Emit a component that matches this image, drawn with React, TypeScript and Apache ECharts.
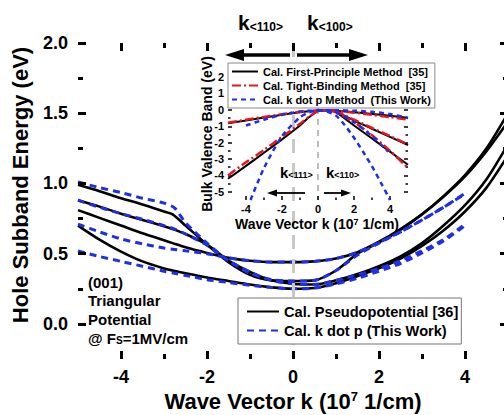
import React, { useEffect, useRef } from "react";
import * as echarts from "echarts";

const FONT = '"Liberation Sans", Arial, Helvetica, sans-serif';

// ---------- Main plot data ----------
const kMain = [-5, -4.5, -4, -3.5, -3, -2.8, -2.5, -2, -1.5, -1, -0.5, 0, 0.5, 1, 1.5, 2, 2.5, 3, 3.5, 4, 4.5, 5];
const pseudo1 = [0.99, 0.945, 0.895, 0.85, 0.8, 0.78, 0.7, 0.565, 0.44, 0.35, 0.31, 0.305, 0.31, 0.38, 0.5, 0.58, 0.67, 0.78, 0.91, 1.06, 1.25, 1.5];
const pseudo2 = [0.88, 0.835, 0.785, 0.74, 0.695, 0.675, 0.64, 0.565, 0.45, 0.37, 0.31, 0.285, 0.28, 0.31, 0.355, 0.41, 0.48, 0.575, 0.7, 0.845, 1.03, 1.28];
const pseudo3 = [0.81, 0.755, 0.7, 0.645, 0.595, 0.575, 0.545, 0.505, 0.47, 0.45, 0.44, 0.44, 0.445, 0.465, 0.51, 0.585, 0.675, 0.78, 0.905, 1.05, 1.23, 1.44];
const pseudo4 = [0.7, 0.6, 0.515, 0.445, 0.395, 0.38, 0.36, 0.33, 0.305, 0.28, 0.26, 0.25, 0.255, 0.29, 0.34, 0.395, 0.465, 0.555, 0.665, 0.8, 0.97, 1.2];

const kBlue = [-5, -4.5, -4, -3.5, -3, -2.75, -2.5, -2, -1.5, -1, -0.5, 0, 0.5, 1, 1.5, 2, 2.5, 3, 3.5, 4];
const kdotp1 = [1.01, 0.97, 0.935, 0.895, 0.86, 0.825, 0.72, 0.575, 0.45, 0.36, 0.315, 0.305, 0.31, 0.38, 0.49, 0.575, 0.655, 0.74, 0.83, 0.93];
const kdotp2 = [0.88, 0.83, 0.785, 0.745, 0.7, 0.675, 0.64, 0.56, 0.45, 0.37, 0.31, 0.285, 0.28, 0.31, 0.35, 0.395, 0.45, 0.52, 0.6, 0.71];
const kdotp3 = [0.71, 0.655, 0.605, 0.57, 0.54, 0.53, 0.52, 0.5, 0.47, 0.45, 0.44, 0.44, 0.445, 0.465, 0.51, 0.58, 0.655, 0.74, 0.83, 0.925];
const kdotp4 = [0.52, 0.48, 0.445, 0.41, 0.375, 0.36, 0.345, 0.315, 0.295, 0.275, 0.26, 0.25, 0.255, 0.285, 0.325, 0.375, 0.43, 0.505, 0.59, 0.7];

const mainXMajor = [-4, -2, 0, 2, 4];
const mainXMinor = [-3, -1, 1, 3];
const mainYMajor = [0, 0.5, 1, 1.5, 2];
const mainYMinor = [0.25, 0.75, 1.25, 1.75];

// ---------- Inset data ----------
const fpK1 = [-5, -4, -3, -2, -1, 0, 0.5, 1, 2, 3, 4, 5];
const fpV1 = [-0.82, -0.65, -0.47, -0.3, -0.14, -0.04, -0.02, -0.05, -0.14, -0.25, -0.36, -0.48];
const fpK2 = [-5, -4, -3, -2, -1, -0.5, 0, 0.5, 0.9, 2, 3, 4, 5];
const fpV2 = [-4.2, -3.42, -2.62, -1.8, -0.95, -0.45, -0.08, -0.02, -0.08, -0.95, -1.75, -2.55, -3.35];
const fpK3 = [0, 0.5, 0.9, 2, 3, 4, 5];
const fpV3 = [-0.04, -0.02, -0.06, -0.65, -1.15, -1.65, -2.15];

const tbK1 = [-5, -4, -3, -2, -1, 0, 0.5, 1, 2, 3, 4, 5];
const tbV1 = [-0.78, -0.6, -0.43, -0.27, -0.12, -0.04, -0.03, -0.06, -0.17, -0.3, -0.44, -0.6];
const tbK2 = [-5, -4, -3, -2, -1, -0.5, 0, 0.5, 1, 2, 3, 4, 5];
const tbV2 = [-4.0, -3.2, -2.45, -1.65, -0.85, -0.42, -0.08, -0.03, -0.15, -0.75, -1.55, -2.5, -3.55];
const tbK3 = [0, 0.5, 1, 2, 3, 4, 5];
const tbV3 = [-0.04, -0.03, -0.1, -0.6, -1.1, -1.6, -2.1];

const kpK1 = [-4, -3, -2, -1, 0, 1, 2, 3, 4, 5];
const kpV1 = [-0.95, -0.6, -0.3, -0.1, -0.03, -0.02, -0.05, -0.12, -0.25, -0.5];
const kpK2 = [-3.75, -3, -2, -1, -0.5, 0, 0.5, 1, 1.5, 2, 2.5, 3, 3.5, 4];
const kpV2 = [-5.5, -3.55, -1.6, -0.45, -0.15, -0.04, -0.1, -0.35, -0.95, -1.7, -2.55, -3.45, -4.45, -5.5];
const kpK3 = [0, 0.5, 1, 2, 3, 3.9];
const kpV3 = [-0.03, -0.05, -0.15, -0.75, -1.6, -2.55];

const inXMajor = [-4, -2, 0, 2, 4];
const inXMinor = [-3, -1, 1, 3];
const inYMajor = [-5, -4, -3, -2, -1, 0, 1, 2];
const inYMinor = [-4.5, -3.5, -2.5, -1.5, -0.5, 0.5, 1.5, 2.5];

// axis extents
const mainX = { min: -5, max: 5, interval: 1 };
const mainY = { min: -0.25, max: 2, interval: 0.25 };
const insetX = { min: -5, max: 5, interval: 1 };
const insetY = { min: -5.5, max: 2.8, interval: 0.5 };

// grid boxes (pixels)
const W = 504;
const H = 415;
const GRID_MAIN = { left: 78, top: 43, right: -4, bottom: 56 };
const GRID_INSET = { left: 228, top: 64, width: 180, height: 136 };

const LEG_PP = "Cal. Pseudopotential [36]";
const LEG_KP = "Cal. k dot p (This Work)";
const LEG_FP = "Cal. First-Principle Method\u00a0 [35]";
const LEG_TB = "Cal. Tight-Binding Method\u00a0 [35]";
const LEG_KPI = "Cal. k dot p Method\u00a0 (This Work)";

const BLUE = "#1f2fe6";
const RED = "#e8141e";

const pairs = (ks: number[], vs: number[]) => ks.map((k, i) => [k, vs[i]]);
const isMult = (v: number, step: number) => Math.abs(v / step - Math.round(v / step)) < 1e-6;

function axis(grid: number, pos: string, ext: any, labels: boolean, fs: number, margin: number, fmt?: (v: number) => string) {
  const o: any = {
    type: "value",
    gridIndex: grid,
    position: pos,
    min: ext.min,
    max: ext.max,
    interval: ext.interval,
    axisLine: { show: false, onZero: false },
    axisTick: { show: false },
    axisLabel: { show: labels, color: "#000", fontSize: fs || 12, fontWeight: "bold", fontFamily: FONT, margin },
    splitLine: { show: false },
  };
  if (fmt) o.axisLabel.formatter = fmt;
  return o;
}

// Frame and ticks as markLine segments in data coordinates
function frameMarks(xExt: any, yExt: any, t: any, pxW: number, pxH: number, lw: number, maj: number, mnr: number) {
  const xpp = (xExt.max - xExt.min) / pxW;
  const ypp = (yExt.max - yExt.min) / pxH;
  const segs: any[] = [];
  const seg = (a: number, b: number, c: number, d: number) => segs.push([{ coord: [a, b] }, { coord: [c, d] }]);
  t.xMajor.forEach((v: number) => { seg(v, yExt.min, v, yExt.min + maj * ypp); seg(v, yExt.max, v, yExt.max - maj * ypp); });
  t.xMinor.forEach((v: number) => { seg(v, yExt.min, v, yExt.min + mnr * ypp); seg(v, yExt.max, v, yExt.max - mnr * ypp); });
  t.yMajor.forEach((v: number) => { seg(xExt.min, v, xExt.min + maj * xpp, v); seg(xExt.max, v, xExt.max - maj * xpp, v); });
  t.yMinor.forEach((v: number) => { seg(xExt.min, v, xExt.min + mnr * xpp, v); seg(xExt.max, v, xExt.max - mnr * xpp, v); });
  const hx = (lw / 2) * xpp;
  const hy = (lw / 2) * ypp;
  seg(xExt.min - hx, yExt.min, xExt.max + hx, yExt.min);
  seg(xExt.min - hx, yExt.max, xExt.max + hx, yExt.max);
  seg(xExt.min, yExt.min - hy, xExt.min, yExt.max + hy);
  seg(xExt.max, yExt.min - hy, xExt.max, yExt.max + hy);
  return segs;
}

export default function App() {
  const ref = useRef<HTMLDivElement>(null);
  useEffect(() => {
    const chart = echarts.init(ref.current!, null, { renderer: "svg" });

    const blackMain = (vals: number[], withMark: boolean) => ({
      type: "line",
      name: LEG_PP,
      xAxisIndex: 0,
      yAxisIndex: 0,
      data: pairs(kMain, vals),
      symbol: "none",
      smooth: 0.25,
      lineStyle: { color: "#000", width: 2.6 },
      itemStyle: { color: "#000" },
      z: 3,
      markLine: withMark
        ? {
            silent: true,
            symbol: "none",
            label: { show: false },
            lineStyle: { color: "#c8c8c8", width: 3, type: [14, 10] },
            data: [[{ coord: [0, 2] }, { coord: [0, -0.25] }]],
          }
        : undefined,
    });
    const blueMain = (vals: number[]) => ({
      type: "line",
      name: LEG_KP,
      xAxisIndex: 0,
      yAxisIndex: 0,
      data: pairs(kBlue, vals),
      symbol: "none",
      smooth: 0.25,
      lineStyle: { color: BLUE, width: 3, type: [7, 5] },
      itemStyle: { color: BLUE },
      z: 4,
    });
    const inset = (name: string, ks: number[], vs: number[], color: string, width: number, type: any, withMark = false) => ({
      type: "line",
      name,
      xAxisIndex: 1,
      yAxisIndex: 1,
      data: pairs(ks, vs),
      symbol: "none",
      smooth: 0.25,
      lineStyle: { color, width, type },
      itemStyle: { color },
      z: 7,
      markLine: withMark
        ? {
            silent: true,
            symbol: "none",
            label: { show: false },
            lineStyle: { color: "#bdbdbd", width: 2, type: [6, 5] },
            data: [[{ coord: [0, 2.8] }, { coord: [0, -5.5] }]],
          }
        : undefined,
    });
    const helper = (name: string, idx: number, xExt: any, yExt: any, z: number, extra: any) => ({
      type: "line",
      name,
      xAxisIndex: idx,
      yAxisIndex: idx,
      data: [[xExt.min, yExt.min]],
      symbol: "none",
      silent: true,
      clip: false,
      lineStyle: { width: 0, opacity: 0 },
      z,
      ...extra,
    });

    const mainPxW = W - GRID_MAIN.left - GRID_MAIN.right;
    const mainPxH = H - GRID_MAIN.top - GRID_MAIN.bottom;

    const txt = (text: string, x: number, y: number, size: number, extra: any = {}) => ({
      type: "text",
      x,
      y,
      silent: true,
      z: 20,
      ...extra,
      style: {
        text,
        fill: "#000",
        fontSize: size,
        fontWeight: "bold",
        fontFamily: FONT,
        textAlign: "left",
        textVerticalAlign: "middle",
        ...(extra.style || {}),
      },
    });
    const sub = (size: number, va: string) => ({ fontSize: size, fontWeight: "bold", fontFamily: FONT, fill: "#000", verticalAlign: va, lineHeight: size });

    const option: any = {
      animation: false,
      grid: [
        { ...GRID_MAIN, outerBoundsMode: "none", containLabel: false, show: false },
        { ...GRID_INSET, show: false, outerBoundsMode: "none", containLabel: false },
      ],
      xAxis: [
        axis(0, "bottom", mainX, true, 18, 9, (v: number) => (isMult(v, 2) && Math.abs(v) < 5 ? String(v) : "")),
        axis(1, "bottom", insetX, true, 11, 3, (v: number) => (isMult(v, 2) && Math.abs(v) < 5 ? String(v) : "")),
      ],
      yAxis: [
        axis(0, "left", mainY, true, 18, 10, (v: number) => (isMult(v, 0.5) && v >= 0 ? v.toFixed(1) : "")),
        axis(1, "left", insetY, true, 11, 4, (v: number) => (isMult(v, 1) && v <= 2 ? String(v) : "")),
      ],
      legend: [
        {
          data: [LEG_PP, LEG_KP],
          orient: "vertical",
          left: 238,
          top: 298,
          itemWidth: 32,
          itemHeight: 10,
          itemGap: 2,
          padding: [5, 3, 5, 8],
          borderColor: "#777",
          borderWidth: 1,
          backgroundColor: "#fff",
          selectedMode: false,
          z: 10,
          itemStyle: { opacity: 0, borderWidth: 0 },
          textStyle: { color: "#000", fontSize: 14.6, fontWeight: "bold", fontFamily: FONT, lineHeight: 17 },
        },
        {
          data: [LEG_FP, LEG_TB, LEG_KPI],
          orient: "vertical",
          left: 228,
          top: 63,
          itemWidth: 26,
          itemHeight: 8,
          itemGap: 1,
          padding: [2, 4, 2, 3],
          borderColor: "#888",
          borderWidth: 1,
          backgroundColor: "#fff",
          selectedMode: false,
          z: 10,
          itemStyle: { opacity: 0, borderWidth: 0 },
          textStyle: { color: "#000", fontSize: 11, fontWeight: "bold", fontFamily: FONT, lineHeight: 13 },
        },
      ],
      series: [
        blackMain(pseudo1, true),
        blackMain(pseudo2, false),
        blackMain(pseudo3, false),
        blackMain(pseudo4, false),
        blueMain(kdotp1),
        blueMain(kdotp2),
        blueMain(kdotp3),
        blueMain(kdotp4),
        helper("mainFrame", 0, mainX, mainY, 5, {
          markLine: {
            silent: true,
            symbol: "none",
            label: { show: false },
            lineStyle: { color: "#000", width: 3, type: "solid" },
            data: frameMarks(mainX, mainY, { xMajor: mainXMajor, xMinor: mainXMinor, yMajor: mainYMajor, yMinor: mainYMinor }, mainPxW, mainPxH, 3, 8, 5),
          },
        }),
        helper("insetBg", 1, insetX, insetY, 6, {
          markArea: {
            silent: true,
            label: { show: false },
            itemStyle: { color: "#fff", opacity: 1, borderWidth: 0 },
            data: [[{ coord: [insetX.min, insetY.max] }, { coord: [insetX.max, insetY.min] }]],
          },
        }),
        inset(LEG_FP, fpK1, fpV1, "#000", 2, "solid", true),
        inset(LEG_FP, fpK2, fpV2, "#000", 2, "solid"),
        inset(LEG_FP, fpK3, fpV3, "#000", 2, "solid"),
        inset(LEG_TB, tbK1, tbV1, RED, 2.5, [9, 3, 2, 3]),
        inset(LEG_TB, tbK2, tbV2, RED, 2.5, [9, 3, 2, 3]),
        inset(LEG_TB, tbK3, tbV3, RED, 2.5, [9, 3, 2, 3]),
        inset(LEG_KPI, kpK1, kpV1, BLUE, 2.5, [5, 4]),
        inset(LEG_KPI, kpK2, kpV2, BLUE, 2.5, [5, 4]),
        inset(LEG_KPI, kpK3, kpV3, BLUE, 2.5, [5, 4]),
        helper("insetFrame", 1, insetX, insetY, 8, {
          markLine: {
            silent: true,
            symbol: "none",
            label: { show: false },
            lineStyle: { color: "#000", width: 1.5, type: "solid" },
            data: frameMarks(insetX, insetY, { xMajor: inXMajor, xMinor: inXMinor, yMajor: inYMajor, yMinor: inYMinor }, GRID_INSET.width, GRID_INSET.height, 1.5, 4, 2.5),
          },
        }),
      ],
      graphic: [
        txt("Wave Vector k (10{sup|7} 1/cm)", 293, 401, 22, { style: { textAlign: "center", rich: { sup: sub(13, "top") } } }),
        txt("Hole Subband Energy (eV)", 20, 185, 22, { rotation: Math.PI / 2, style: { textAlign: "center" } }),
        txt("k{s|<110>}", 238, 22, 21, { style: { rich: { s: sub(12, "bottom") } } }),
        txt("k{s|<100>}", 307, 22, 21, { style: { rich: { s: sub(12, "bottom") } } }),
        { type: "line", silent: true, z: 20, shape: { x1: 290, y1: 55, x2: 240, y2: 55 }, style: { stroke: "#000", lineWidth: 3.5 } },
        { type: "polygon", silent: true, z: 20, shape: { points: [[225, 55], [244, 49], [244, 61]] }, style: { fill: "#000" } },
        { type: "line", silent: true, z: 20, shape: { x1: 297, y1: 55, x2: 352, y2: 55 }, style: { stroke: "#000", lineWidth: 3.5 } },
        { type: "polygon", silent: true, z: 20, shape: { points: [[368, 55], [349, 49], [349, 61]] }, style: { fill: "#000" } },
        txt("(001)", 88, 282, 15),
        txt("Triangular", 88, 300, 15),
        txt("Potential", 88, 319, 15),
        txt("@ F{s|S}=1MV/cm", 88, 338, 15, { style: { rich: { s: sub(10, "bottom") } } }),
        txt("Wave Vector k (10{sup|7} 1/cm)", 317, 224, 14, { style: { textAlign: "center", rich: { sup: sub(9, "top") } } }),
        txt("Bulk Valence Band (eV)", 207, 134, 14, { rotation: Math.PI / 2, style: { textAlign: "center" } }),
        txt("k{s|<111>}", 280, 172, 15, { style: { rich: { s: sub(9, "bottom") } } }),
        txt("k{s|<110>}", 326, 172, 15, { style: { rich: { s: sub(9, "bottom") } } }),
        { type: "line", silent: true, z: 20, shape: { x1: 305, y1: 193, x2: 274, y2: 193 }, style: { stroke: "#000", lineWidth: 1.8 } },
        { type: "polygon", silent: true, z: 20, shape: { points: [[267, 193], [277, 189.5], [277, 196.5]] }, style: { fill: "#000" } },
        { type: "line", silent: true, z: 20, shape: { x1: 324, y1: 193, x2: 344, y2: 193 }, style: { stroke: "#000", lineWidth: 1.8 } },
        { type: "polygon", silent: true, z: 20, shape: { points: [[351, 193], [341, 189.5], [341, 196.5]] }, style: { fill: "#000" } },
      ],
    };

    chart.setOption(option);
    return () => chart.dispose();
  }, []);
  return <div ref={ref} style={{ position: "fixed", left: 0, top: 0, width: W, height: H, background: "#fff" }} />;
}
